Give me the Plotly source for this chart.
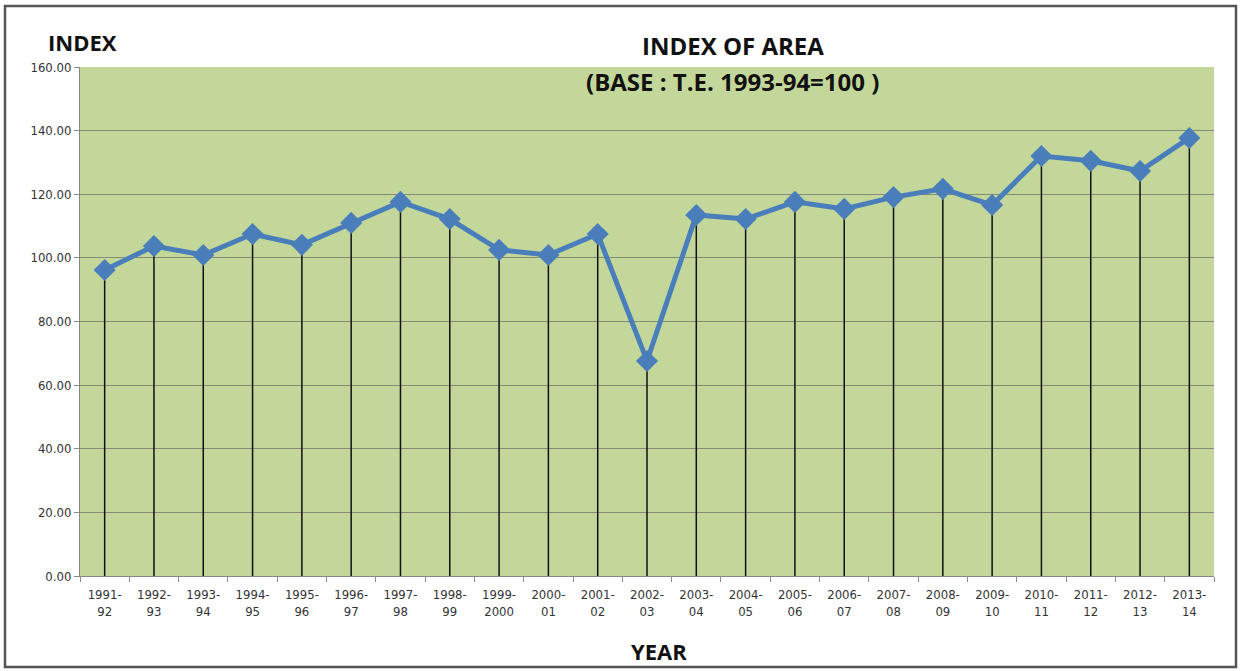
import plotly.graph_objects as go

years = ["1991-<br>92", "1992-<br>93", "1993-<br>94", "1994-<br>95", "1995-<br>96", "1996-<br>97",
         "1997-<br>98", "1998-<br>99", "1999-<br>2000", "2000-<br>01", "2001-<br>02", "2002-<br>03",
         "2003-<br>04", "2004-<br>05", "2005-<br>06", "2006-<br>07", "2007-<br>08", "2008-<br>09",
         "2009-<br>10", "2010-<br>11", "2011-<br>12", "2012-<br>13", "2013-<br>14"]
index_values = [96.2, 103.7, 100.9, 107.5, 104.1, 111.0, 117.6, 112.2, 102.5, 100.9, 107.5, 67.6,
                113.5, 112.2, 117.6, 115.4, 119.1, 121.7, 116.6, 132.0, 130.5, 127.3, 137.7]
y_ticks = [0, 20, 40, 60, 80, 100, 120, 140, 160]

W, H = 1241, 671
ml, mr, mt, mb = 80, 27, 67, 95
pw, ph = W - ml - mr, H - mt - mb

def px_x(p):
    return (p - ml) / pw

def px_y(p):
    return (H - mb - p) / ph

tickfont = dict(size=13, color="#333333", family="DejaVu Sans Condensed, Open Sans, sans-serif")

fig = go.Figure()
fig.add_trace(go.Scatter(
    x=years, y=index_values, mode="lines+markers",
    line=dict(color="#4a7ebb", width=5),
    marker=dict(symbol="diamond", size=17, color="#4a7ebb"),
    error_y=dict(type="data", symmetric=False, array=[0] * len(index_values),
                 arrayminus=index_values, color="#111111", thickness=1.5, width=0),
    showlegend=False,
))

fig.update_layout(
    width=W, height=H,
    margin=dict(l=ml, r=mr, t=mt, b=mb),
    paper_bgcolor="white",
    plot_bgcolor="#c4d79b",
    font=dict(family="Open Sans, DejaVu Sans, sans-serif", color="#333333"),
    xaxis=dict(
        type="category", tickson="boundaries", ticks="outside", ticklen=5,
        range=[-0.5, len(years) - 0.5], ticklabelstandoff=6,
        tickcolor="#888888", showline=True, linecolor="#888888", linewidth=1,
        showgrid=False, tickfont=tickfont, fixedrange=True,
    ),
    yaxis=dict(
        range=[0, 160], tickvals=y_ticks, tickformat=".2f", ticks="outside", ticklen=5,
        tickcolor="#888888", showline=True, linecolor="#888888", linewidth=1,
        showgrid=True, gridcolor="#868a78", gridwidth=1, zeroline=False,
        tickfont=tickfont, fixedrange=True,
    ),
    annotations=[
        dict(text="<b>INDEX OF AREA</b>", xref="paper", yref="paper", x=px_x(733), y=px_y(45),
             showarrow=False, font=dict(size=24, color="#111111", family="Open Sans, sans-serif"),
             xanchor="center", yanchor="middle"),
        dict(text="<b>(BASE : T.E. 1993-94=100 )</b>", xref="paper", yref="paper", x=px_x(732), y=px_y(81),
             showarrow=False, font=dict(size=24, color="#111111", family="Open Sans, sans-serif"),
             xanchor="center", yanchor="middle"),
        dict(text="<b>INDEX</b>", xref="paper", yref="paper", x=px_x(82), y=px_y(42),
             showarrow=False, font=dict(size=22, color="#111111", family="Open Sans, sans-serif"),
             xanchor="center", yanchor="middle"),
        dict(text="<b>YEAR</b>", xref="paper", yref="paper", x=px_x(659), y=px_y(651),
             showarrow=False, font=dict(size=22, color="#111111", family="Open Sans, sans-serif"),
             xanchor="center", yanchor="middle"),
    ],
    shapes=[
        dict(type="rect", xref="paper", yref="paper", x0=px_x(5), x1=px_x(1236), y0=px_y(667), y1=px_y(6),
             line=dict(color="#555555", width=2.5), fillcolor="rgba(0,0,0,0)", layer="below"),
    ],
)

fig.write_html("out.html", config={"displayModeBar": False},
               post_script="document.body.style.margin='0';document.body.style.overflow='hidden';")
